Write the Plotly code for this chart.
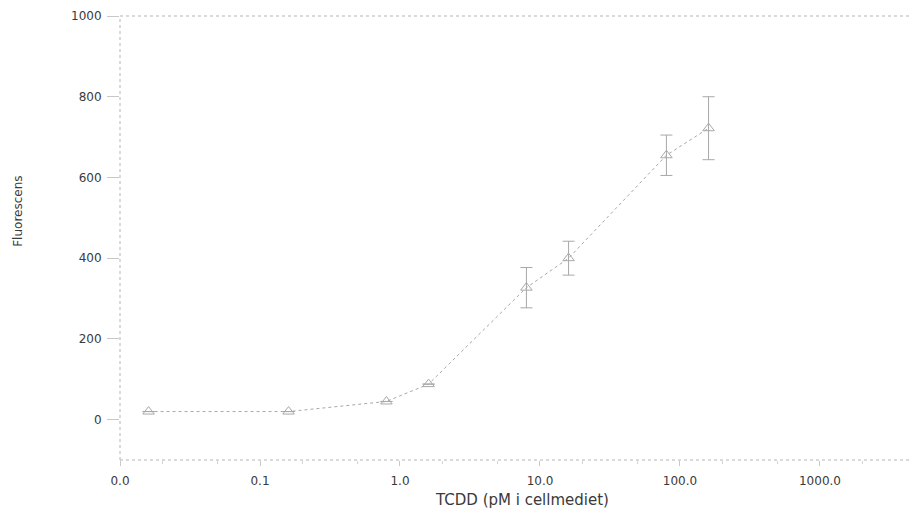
import plotly.graph_objects as go

conc = [0.016, 0.16, 0.8, 1.6, 8, 16, 80, 160]
fluor = [20, 20, 45, 88, 327, 400, 655, 722]
err = [0, 0, 0, 0, 50, 42, 50, 78]

xticks = [0.01, 0.1, 1, 10, 100, 1000]
xticktext = ["0.0", "0.1", "1.0", "10.0", "100.0", "1000.0"]
yticks = [0, 200, 400, 600, 800, 1000]

grey = "#a8a8a8"
axc = "#b5b5b5"
fnt = "DejaVu Sans, Liberation Sans, sans-serif"
fig = go.Figure()
fig.add_trace(go.Scatter(
    x=conc, y=fluor, mode="lines+markers",
    line=dict(color=grey, width=1, dash="dot"),
    marker=dict(symbol="triangle-up-open", size=10, color=grey, line=dict(width=1)),
    error_y=dict(type="data", array=err, visible=True, color=grey, thickness=1, width=6),
    showlegend=False,
))
fig.update_layout(
    width=912, height=514,
    margin=dict(l=120, r=2, t=16, b=54),
    paper_bgcolor="white", plot_bgcolor="white",
    font=dict(family=fnt, size=12, color="#3a3a3a"),
    xaxis=dict(type="log", range=[-2, 3.643], tickvals=xticks, ticktext=xticktext,
               showgrid=False, zeroline=False, showline=False, automargin=False,
               ticks="outside", ticklen=5, tickcolor="#c8c8c8", ticklabelstandoff=5,
               minor=dict(ticks="outside", ticklen=3, tickcolor="#d5d5d5")),
    yaxis=dict(range=[-100, 1000], tickvals=yticks, showgrid=False, zeroline=False,
               showline=False, automargin=False, ticks="outside",
               ticklen=12, tickcolor="#c8c8c8", ticklabelstandoff=3),
)
# axis frame lines (dotted, faded as in the scan)
fig.add_shape(type="line", xref="paper", yref="paper", x0=0, x1=1, y0=1, y1=1,
              line=dict(color=axc, width=1, dash="dot"))
fig.add_shape(type="line", xref="paper", yref="paper", x0=0, x1=1, y0=0, y1=0,
              line=dict(color=axc, width=1, dash="dot"))
fig.add_shape(type="line", xref="paper", yref="paper", x0=0, x1=0, y0=0, y1=1,
              line=dict(color=axc, width=1, dash="dot"))
fig.add_annotation(text="Fluorescens", xref="paper", yref="paper",
                   x=-102/790, y=0.559, xanchor="center", yanchor="middle",
                   textangle=-90, showarrow=False, font=dict(size=12))
fig.add_annotation(text="TCDD (pM i cellmediet)", xref="paper", yref="paper",
                   x=0.509, y=-40/444, xanchor="center", yanchor="middle",
                   showarrow=False, font=dict(size=15))
fig.write_html("out.html", config={"displayModeBar": False},
               post_script="document.body.style.margin='0px';document.body.style.overflow='hidden';")
